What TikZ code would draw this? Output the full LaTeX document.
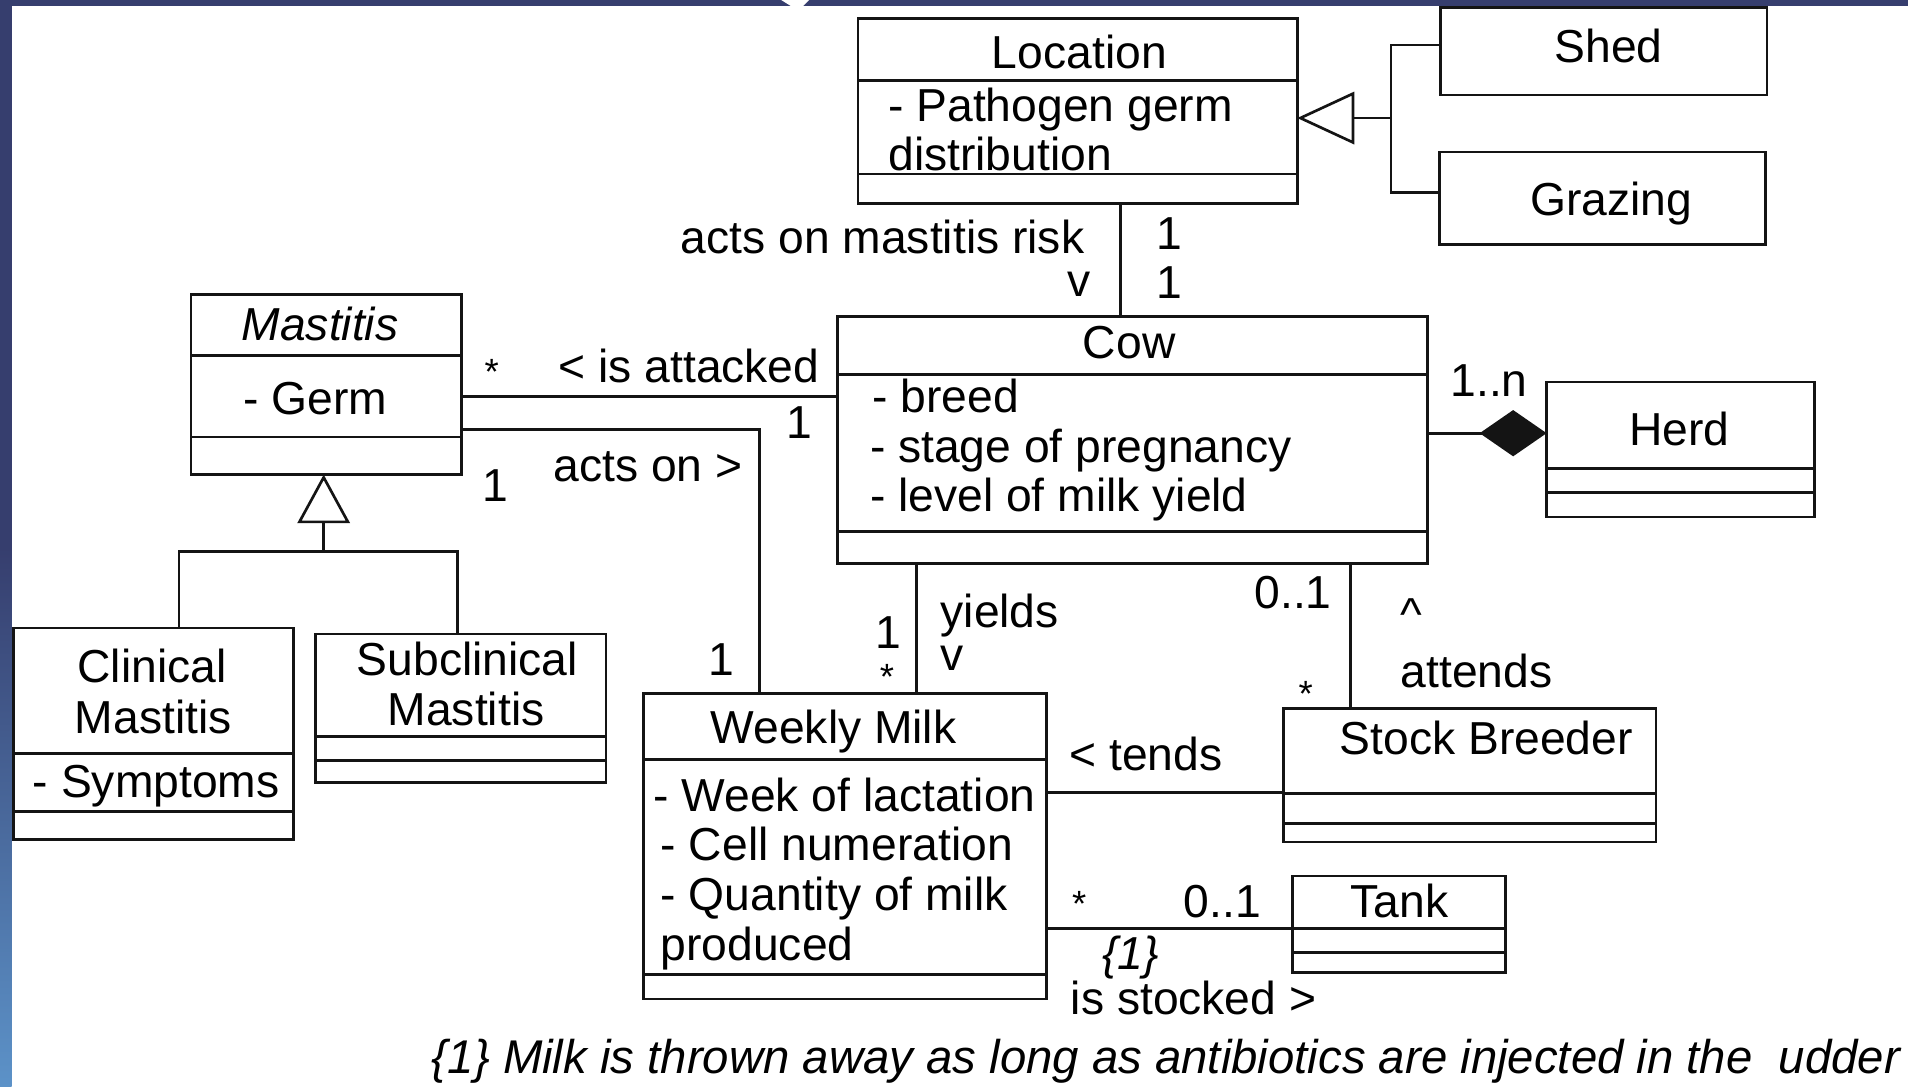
\documentclass[tikz,border=0pt]{standalone}
\usepackage{fontspec}
\setmainfont{Liberation Sans}
\usetikzlibrary{calc,arrows.meta}
\definecolor{slidenavy}{RGB}{54,62,110}
\definecolor{slideblue}{RGB}{92,146,200}
\definecolor{ink}{RGB}{20,20,20}

% horizontal separator inside a class box, #2 = offset below the top edge
\newcommand\compartment[2]{\draw[boxline] ($(#1.north west)+(0,#2)$) -- ($(#1.north east)+(0,#2)$);}

\begin{document}
\begin{tikzpicture}[x=1pt,y=-1pt,
  umlbox/.style={draw=ink, line width=2.2pt, fill=white, rectangle, inner sep=0pt, outer sep=0pt, anchor=north west},
  boxline/.style={draw=ink, line width=2.2pt},
  assoc/.style={draw=ink, line width=2.2pt},
  txt/.style={inner sep=0pt, outer sep=0pt, text=black, font=\fontsize{38}{41}\selectfont},
  itxt/.style={inner sep=0pt, outer sep=0pt, text=black, font=\fontsize{38}{41}\selectfont\itshape},
  star/.style={inner sep=0pt, outer sep=0pt, text=black, font=\fontsize{30}{30}\selectfont},
  gen/.style={assoc, -{Triangle[open, length=#1, width=43pt]}},
]
\useasboundingbox (0,0) rectangle (1568,893);
% slide background
\fill[white] (0,0) rectangle (1568,893);
\fill[slidenavy] (0,0) rectangle (1568,5);
\fill[white] (642,0) -- (665,0) -- (660,5) -- (650,5) -- cycle;
\fill[slidenavy] (0,0) rectangle (9.5,450);
\shade[top color=slidenavy, bottom color=slideblue] (0,450) rectangle (9.5,893);

% ---------- classes ----------
\node[umlbox, minimum width=361pt, minimum height=152pt] (loc) at (705,15) {};
\compartment{loc}{51}\compartment{loc}{128}
\node[txt, anchor=base] (locname) at (887,56) {Location};
\node[txt, anchor=base west] (locattr1) at (730,100) {- Pathogen germ};
\node[txt, anchor=base west] (locattr2) at (730,140) {distribution};

\node[umlbox, minimum width=268pt, minimum height=72pt] (shed) at (1184,6) {};
\node[txt, anchor=base] (shedname) at (1322,51) {Shed};

\node[umlbox, minimum width=268pt, minimum height=76pt] (grazing) at (1183,125) {};
\node[txt, anchor=base] (grazingname) at (1324,177) {Grazing};

\node[umlbox, minimum width=485pt, minimum height=203pt] (cow) at (688,260) {};
\compartment{cow}{48}\compartment{cow}{177}
\node[txt, anchor=base] (cowname) at (928,295) {Cow};
\node[txt, anchor=base west] (cowattr1) at (717,339) {- breed};
\node[txt, anchor=base west] (cowattr2) at (715,380) {- stage of pregnancy};
\node[txt, anchor=base west] (cowattr3) at (715,420) {- level of milk yield};

\node[umlbox, minimum width=220pt, minimum height=111pt] (herd) at (1271,314) {};
\compartment{herd}{71}\compartment{herd}{91}
\node[txt, anchor=base] (herdname) at (1380,366) {Herd};

\node[umlbox, minimum width=222pt, minimum height=148pt] (mastitis) at (157,242) {};
\compartment{mastitis}{50}\compartment{mastitis}{117}
\node[itxt, anchor=base] (mastitisname) at (263,280) {Mastitis};
\node[txt, anchor=base west] (mastitisattr) at (200,341) {- Germ};

\node[umlbox, minimum width=230pt, minimum height=174pt] (clinical) at (11,516) {};
\compartment{clinical}{103}\compartment{clinical}{151}
\node[txt, anchor=base] (clinicalname1) at (125,561) {Clinical};
\node[txt, anchor=base] (clinicalname2) at (126,603) {Mastitis};
\node[txt, anchor=base west] (clinicalattr) at (27,655) {- Symptoms};

\node[umlbox, minimum width=239pt, minimum height=122pt] (subclinical) at (259,521) {};
\compartment{subclinical}{84}\compartment{subclinical}{104}
\node[txt, anchor=base] (subclinicalname1) at (384,555) {Subclinical};
\node[txt, anchor=base] (subclinicalname2) at (383,596) {Mastitis};

\node[umlbox, minimum width=331pt, minimum height=251pt] (weekly) at (529,570) {};
\compartment{weekly}{54}\compartment{weekly}{231}
\node[txt, anchor=base] (weeklyname) at (685,611) {Weekly Milk};
\node[txt, anchor=base west] (weeklyattr1) at (537,667) {- Week of lactation};
\node[txt, anchor=base west] (weeklyattr2) at (543,707) {- Cell numeration};
\node[txt, anchor=base west] (weeklyattr3) at (543,748) {- Quantity of milk};
\node[txt, anchor=base west] (weeklyattr4) at (543,789) {produced};

\node[umlbox, minimum width=306pt, minimum height=110pt] (stock) at (1055,582) {};
\compartment{stock}{70}\compartment{stock}{95}
\node[txt, anchor=base west] (stockname) at (1101,620) {Stock Breeder};

\node[umlbox, minimum width=175pt, minimum height=79pt] (tank) at (1062,720) {};
\compartment{tank}{43}\compartment{tank}{63}
\node[txt, anchor=base] (tankname) at (1150,754) {Tank};

% ---------- attachment points ----------
\coordinate (lcx) at (921,0);
\coordinate (gA) at (1143,37);
\coordinate (gB) at (1143,97);
\coordinate (gC) at (1143,158);
\coordinate (mJ) at (266,453);
\coordinate (mL) at (147,0);
\coordinate (mR) at (376,0);
\coordinate (hy) at (0,356);
\coordinate (iay) at (0,326);
\coordinate (aoy) at (0,353);
\coordinate (aox) at (624,0);
\coordinate (yx) at (753,0);
\coordinate (ax) at (1110,0);
\coordinate (ty) at (0,651);
\coordinate (sy) at (0,763);

% ---------- connectors ----------
% Location specialisations
\draw[assoc] (shed.west |- gA) -- (gA) -- (gC) -- (grazing.west |- gC);
\draw[gen=47pt] (gB) -- (loc.east |- gB);
% Mastitis specialisations
\draw[assoc] (clinical.north -| mL) -- (mL |- mJ) -- (mR |- mJ) -- (subclinical.north -| mR);
\draw[gen=40pt] (mJ) -- (mastitis.south -| mJ);
% associations
\draw[assoc] (loc.south -| lcx) -- (cow.north -| lcx);
\draw[assoc, -{Diamond[length=55pt, width=38pt]}] (cow.east |- hy) -- (herd.west |- hy);
\draw[assoc] (mastitis.east |- iay) -- (cow.west |- iay);
\draw[assoc] (mastitis.east |- aoy) -| (weekly.north -| aox);
\draw[assoc] (cow.south -| yx) -- (weekly.north -| yx);
\draw[assoc] (cow.south -| ax) -- (stock.north -| ax);
\draw[assoc] (weekly.east |- ty) -- (stock.west |- ty);
\draw[assoc] (weekly.east |- sy) -- (tank.west |- sy);

% ---------- association labels ----------
\node[txt, anchor=base east] (lblrisk) at (891,208) {acts on mastitis risk};
\node[txt, anchor=base] (lblriskdir) at (887,244) {v};
\node[txt, anchor=base] (mulloc) at (961,205) {1};
\node[txt, anchor=base] (mulcowtop) at (961,245) {1};

\node[star] (mulmast1) at (404,306) {*};
\node[txt, anchor=base west] (lblattacked) at (459,314) {< is attacked};
\node[txt, anchor=base] (mulcowleft) at (657,360) {1};

\node[txt, anchor=base] (mulmast2) at (407,412) {1};
\node[txt, anchor=base west] (lblactson) at (455,396) {acts on >};
\node[txt, anchor=base] (mulweekly1) at (593,555) {1};

\node[txt, anchor=base] (mulcowbot) at (730,533) {1};
\node[star] (mulweekly2) at (729,556) {*};
\node[txt, anchor=base west] (lblyields) at (773,516) {yields};
\node[txt, anchor=base] (lblyieldsdir) at (782,551) {v};

\node[txt, anchor=base west] (mulcowbr) at (1031,500) {0..1};
\node[txt] (lblattendsdir) at (1160,505) {\textasciicircum};
\node[txt, anchor=base west] (lblattends) at (1151,565) {attends};
\node[star] (mulstock) at (1073,570) {*};

\node[txt, anchor=base west] (mulherd) at (1192,326) {1..n};

\node[txt, anchor=base west] (lbltends) at (879,633) {< tends};

\node[star] (mulweekly3) at (887,743) {*};
\node[txt, anchor=base west] (multank) at (973,754) {0..1};
\node[itxt, anchor=base west] (lblnote) at (906,797) {\{1\}};
\node[txt, anchor=base west] (lblstocked) at (880,834) {is stocked >};

% footnote
\node[inner sep=0pt, outer sep=0pt, text=black, font=\fontsize{38.9}{41}\selectfont\itshape, anchor=base west] (footnote) at (355,882) {\{1\} Milk is thrown away as long as antibiotics are injected in the \ udder};
\end{tikzpicture}
\end{document}
